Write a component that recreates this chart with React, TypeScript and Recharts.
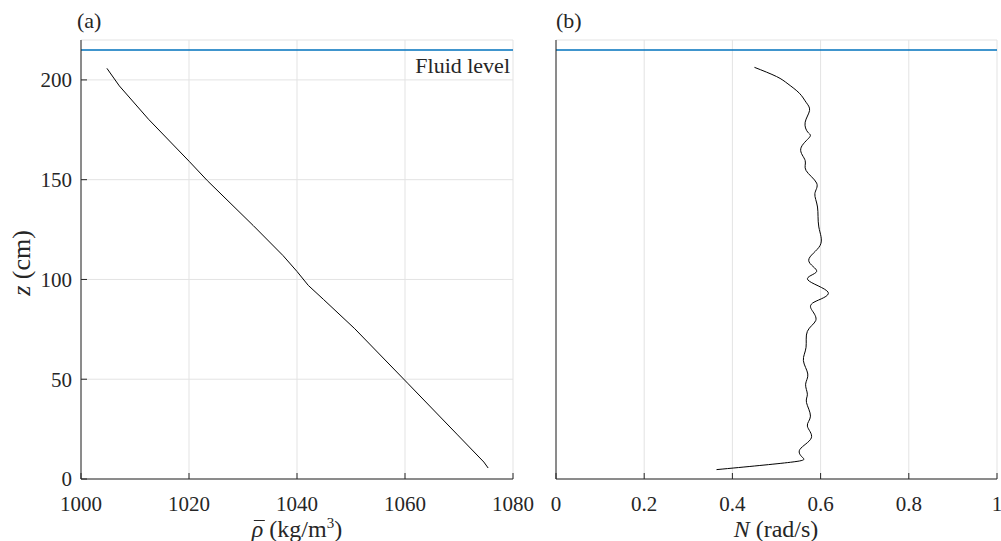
import React from 'react';
import { LineChart, Line, XAxis, YAxis, CartesianGrid, ReferenceLine } from 'recharts';

const FONT = '"Liberation Serif", "Times New Roman", serif';
const AXIS = '#262626';
const GRID = '#e3e3e3';
const FLUID = '#0072BD';

// panel (a): mean density profile, read from top to bottom
const zRho = [205.8, 197, 180.3, 159, 149.5, 127, 112, 104, 97, 90, 75.3, 47.7, 22.5, 8.5, 5.5];
const rhoValues = [
  1004.8, 1007.1, 1012.5, 1020.1, 1023.4, 1031.9, 1037.4, 1040.0, 1042.1, 1044.9, 1050.7,
  1060.6, 1069.6, 1074.6, 1075.4,
];

// panel (b): buoyancy frequency profile
const zN = [
  206.3, 201.7, 198, 193.3, 188.8, 184.7, 178.8, 173.8, 171.3, 165.5, 159.6, 154.6, 148.3, 143,
  136.3, 126.3, 117.1, 109.6, 104, 99.8, 93.6, 88.6, 84.4, 79.4, 74, 66, 59.3, 52.6, 47.5, 42.5,
  38.3, 31.5, 26.5, 20.6, 14.8, 10.6, 8.4, 4.7,
];
const nValues = [
  0.45, 0.5, 0.526, 0.552, 0.567, 0.575, 0.565, 0.571, 0.575, 0.555, 0.565, 0.567, 0.591, 0.587,
  0.593, 0.596, 0.599, 0.573, 0.591, 0.571, 0.617, 0.585, 0.581, 0.589, 0.57, 0.567, 0.561, 0.571,
  0.566, 0.57, 0.568, 0.577, 0.57, 0.579, 0.553, 0.56, 0.532, 0.364,
];

const zTicks = [0, 50, 100, 150, 200];
const zDomain = [0, 220];
const rhoTicks = [1000, 1020, 1040, 1060, 1080];
const nTicks = [0, 0.2, 0.4, 0.6, 0.8, 1];
const fluidLevel = 215;

const W = 1001;
const H = 541;
const tickStyle = { fill: AXIS, fontSize: 21, fontFamily: FONT };

const FluidLabel = (props: any) => {
  const { viewBox } = props;
  if (!viewBox) return null;
  return (
    <text
      x={viewBox.x + viewBox.width - 3}
      y={viewBox.y + 23}
      textAnchor="end"
      fill={AXIS}
      fontSize={22}
      fontFamily={FONT}
    >
      Fluid level
    </text>
  );
};

// shared box: inward ticks on all four sides, like a MATLAB axes box
const boxAxes = (key: string, xDomain: number[], xTicks: number[]) => [
  <XAxis
    key={`${key}-top`}
    xAxisId="top"
    orientation="top"
    dataKey={key}
    type="number"
    domain={xDomain}
    ticks={xTicks}
    allowDataOverflow
    height={0}
    tickSize={-6}
    tick={false}
    stroke={AXIS}
  />,
  <YAxis
    key={`${key}-right`}
    yAxisId="right"
    orientation="right"
    type="number"
    domain={zDomain}
    ticks={zTicks}
    allowDataOverflow
    width={0}
    tickSize={-6}
    tick={false}
    stroke={AXIS}
  />,
];

function PanelA() {
  const data = zRho.map((z, i) => ({ z, rho: rhoValues[i] }));
  return (
    <LineChart width={W} height={H} data={data} margin={{ top: 40, right: 488, bottom: 0, left: 0 }}>
      <CartesianGrid stroke={GRID} />
      <XAxis
        dataKey="rho"
        type="number"
        domain={[1000, 1080]}
        ticks={rhoTicks}
        interval={0}
        allowDataOverflow
        height={62}
        tickSize={-6}
        tickMargin={23}
        stroke={AXIS}
        tick={tickStyle}
      />
      <YAxis
        type="number"
        domain={zDomain}
        ticks={zTicks}
        interval={0}
        allowDataOverflow
        width={81}
        tickSize={-6}
        tickMargin={15}
        stroke={AXIS}
        tick={tickStyle}
      />
      {boxAxes('rho', [1000, 1080], rhoTicks)}
      <ReferenceLine y={fluidLevel} stroke={FLUID} strokeWidth={1.5} label={<FluidLabel />} />
      <Line type="linear" dataKey="z" stroke="#000" strokeWidth={1} dot={false} isAnimationActive={false} />
    </LineChart>
  );
}

function PanelB() {
  const data = zN.map((z, i) => ({ z, n: nValues[i] }));
  return (
    <LineChart width={W} height={H} data={data} margin={{ top: 40, right: 4, bottom: 0, left: 0 }}>
      <CartesianGrid stroke={GRID} />
      <XAxis
        dataKey="n"
        type="number"
        domain={[0, 1]}
        ticks={nTicks}
        interval={0}
        allowDataOverflow
        height={62}
        tickSize={-6}
        tickMargin={23}
        stroke={AXIS}
        tick={tickStyle}
        tickFormatter={(v: number) => String(v)}
      />
      <YAxis
        type="number"
        domain={zDomain}
        ticks={zTicks}
        interval={0}
        allowDataOverflow
        width={556}
        tickSize={-6}
        tick={false}
        stroke={AXIS}
      />
      {boxAxes('n', [0, 1], nTicks)}
      <ReferenceLine y={fluidLevel} stroke={FLUID} strokeWidth={1.5} />
      <Line type="natural" dataKey="z" stroke="#000" strokeWidth={1} dot={false} isAnimationActive={false} />
    </LineChart>
  );
}

const text = (extra: React.CSSProperties): React.CSSProperties => ({
  position: 'absolute',
  fontFamily: FONT,
  color: AXIS,
  whiteSpace: 'nowrap',
  lineHeight: 1,
  ...extra,
});

export default function App() {
  return (
    <div style={{ position: 'absolute', left: 0, top: 0, width: W, height: H, background: '#fff', overflow: 'hidden' }}>
      <div style={{ position: 'absolute', left: 0, top: 0 }}>
        <PanelA />
      </div>
      <div style={{ position: 'absolute', left: 0, top: 0 }}>
        <PanelB />
      </div>
      <div style={text({ left: 77, top: 10, fontSize: 22 })}>(a)</div>
      <div style={text({ left: 556, top: 10, fontSize: 22 })}>(b)</div>
      <div style={text({ left: 22, top: 263, fontSize: 26, transform: 'translate(-50%, -50%) rotate(-90deg)' })}>
        <i>z</i> (cm)
      </div>
      <div style={text({ left: 297, top: 517, fontSize: 24, transform: 'translateX(-50%)' })}>
        <span style={{ position: 'relative', fontStyle: 'italic' }}>
          ρ
          <span style={{ position: 'absolute', left: 2, right: -1, top: 4, borderTop: `1px solid ${AXIS}` }} />
        </span>{' '}
        (kg/m<sup style={{ fontSize: 15, lineHeight: 0 }}>3</sup>)
      </div>
      <div style={text({ left: 776, top: 517, fontSize: 24, transform: 'translateX(-50%)' })}>
        <i>N</i> (rad/s)
      </div>
    </div>
  );
}
